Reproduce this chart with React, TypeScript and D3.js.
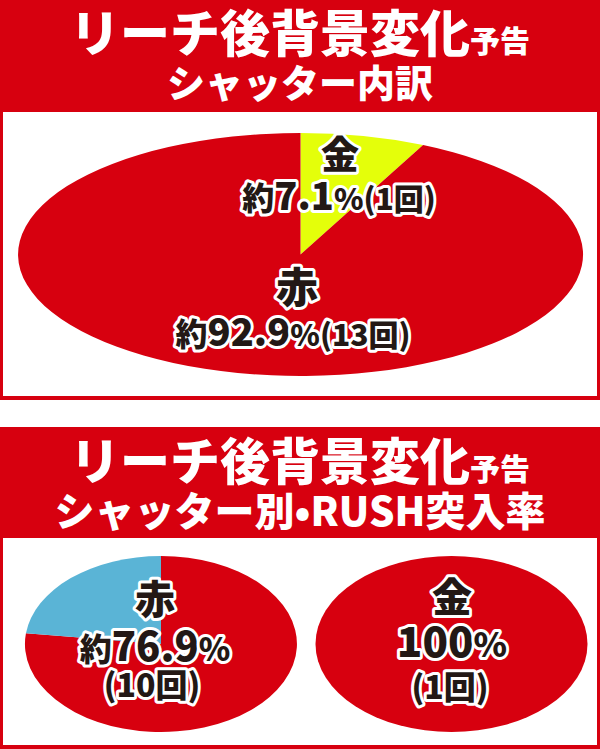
import React from "react";
import * as d3 from "d3";

const RED = "#d7000f";
const YELLOW = "#e4ff0a";
const BLUE = "#5ab4d6";
const INK = "#231815";

// Top chart: shutter breakdown
const topCategories = ["金", "赤"];
const topCounts = [1, 13];
const topPercentText = ["7.1", "92.9"];

// Bottom charts: RUSH rate per shutter
const leftCategories = ["RUSH突入", "非突入"];
const leftCounts = [10, 3];
const rightCategories = ["RUSH突入", "非突入"];
const rightCounts = [1, 0];

const FONT = "'Noto Sans CJK JP', 'Noto Sans', sans-serif";

type Seg = { text: string; size: number };

function Outlined({ x, y, segs, anchor = "middle" }: { x: number; y: number; segs: Seg[]; anchor?: string }) {
  return (
    <text
      x={x}
      y={y}
      textAnchor={anchor as any}
      fontFamily={FONT}
      fontWeight={900}
      fill={INK}
      stroke="#fff"
      strokeWidth={6}
      strokeLinejoin="round"
      paintOrder="stroke"
    >
      {segs.map((s, i) => (
        <tspan key={i} fontSize={s.size}>
          {s.text}
        </tspan>
      ))}
    </text>
  );
}

function EllipsePie({ cx, cy, rx, ry, values, colors }: { cx: number; cy: number; rx: number; ry: number; values: number[]; colors: string[] }) {
  const pie = d3.pie<number>().sort(null).value((d) => d);
  const arcs = pie(values);
  const arc = d3.arc<d3.PieArcDatum<number>>().innerRadius(0).outerRadius(1);
  return (
    <g transform={`translate(${cx},${cy}) scale(${rx},${ry})`}>
      {arcs.map((a, i) =>
        a.endAngle - a.startAngle > 0 ? <path key={i} d={arc(a) || ""} fill={colors[i]} /> : null
      )}
    </g>
  );
}

function Header({ y1, y2, line2 }: { y1: number; y2: number; line2: Seg[] }) {
  return (
    <g fontFamily={FONT} fontWeight={900} fill="#fff">
      <text x={300} y={y1} textAnchor="middle">
        <tspan fontSize={50}>リーチ後背景変化</tspan>
        <tspan fontSize={30}>予告</tspan>
      </text>
      <text x={300} y={y2} textAnchor="middle">
        {line2.map((s, i) => (
          <tspan key={i} fontSize={s.size}>
            {s.text}
          </tspan>
        ))}
      </text>
    </g>
  );
}

export default function App() {
  return (
    <svg width={600} height={749} style={{ position: "absolute", left: 0, top: 0, background: "#fff" }}>
      {/* top panel */}
      <rect x={0} y={0} width={600} height={400} fill={RED} />
      <rect x={3} y={112} width={594} height={284} fill="#fff" />
      <Header y1={52} y2={97} line2={[{ text: "シャッター内訳", size: 38 }]} />
      <EllipsePie cx={300.5} cy={254.5} rx={282.5} ry={121.5} values={topCounts} colors={[YELLOW, RED]} />
      <Outlined x={340} y={168} segs={[{ text: topCategories[0], size: 38 }]} />
      <Outlined
        x={339}
        y={210}
        segs={[
          { text: "約", size: 32 },
          { text: topPercentText[0], size: 38 },
          { text: "%", size: 30 },
          { text: `(${topCounts[0]}回)`, size: 30 },
        ]}
      />
      <Outlined x={297} y={303} segs={[{ text: topCategories[1], size: 42 }]} />
      <Outlined
        x={293}
        y={346}
        segs={[
          { text: "約", size: 32 },
          { text: topPercentText[1], size: 38 },
          { text: "%", size: 30 },
          { text: `(${topCounts[1]}回)`, size: 30 },
        ]}
      />

      {/* bottom panel */}
      <rect x={0} y={427} width={600} height={322} fill={RED} />
      <rect x={3} y={538} width={594} height={207} fill="#fff" />
      <Header
        y1={480}
        y2={526}
        line2={[
          { text: "シャッター別", size: 40 },
          { text: "•", size: 40 },
          { text: "RUSH", size: 40 },
          { text: "突入率", size: 40 },
        ]}
      />
      <EllipsePie cx={161} cy={644} rx={136} ry={88} values={leftCounts} colors={[RED, BLUE]} />
      <EllipsePie cx={451.5} cy={644} rx={136} ry={88} values={rightCounts} colors={[RED, BLUE]} />

      <Outlined x={155} y={614} segs={[{ text: "赤", size: 40 }]} />
      <Outlined
        x={155}
        y={661}
        segs={[
          { text: "約", size: 32 },
          { text: d3.format(".1f")((leftCounts[0] / d3.sum(leftCounts)) * 100), size: 40 },
          { text: "%", size: 32 },
        ]}
      />
      <Outlined x={152} y={697} segs={[{ text: `(${leftCounts[0]}回)`, size: 32 }]} />

      <Outlined x={452} y={612} segs={[{ text: "金", size: 40 }]} />
      <Outlined
        x={452}
        y={657}
        segs={[
          { text: d3.format(".0f")((rightCounts[0] / d3.sum(rightCounts)) * 100), size: 42 },
          { text: "%", size: 34 },
        ]}
      />
      <Outlined x={450} y={699} segs={[{ text: `(${rightCounts[0]}回)`, size: 32 }]} />
    </svg>
  );
}
